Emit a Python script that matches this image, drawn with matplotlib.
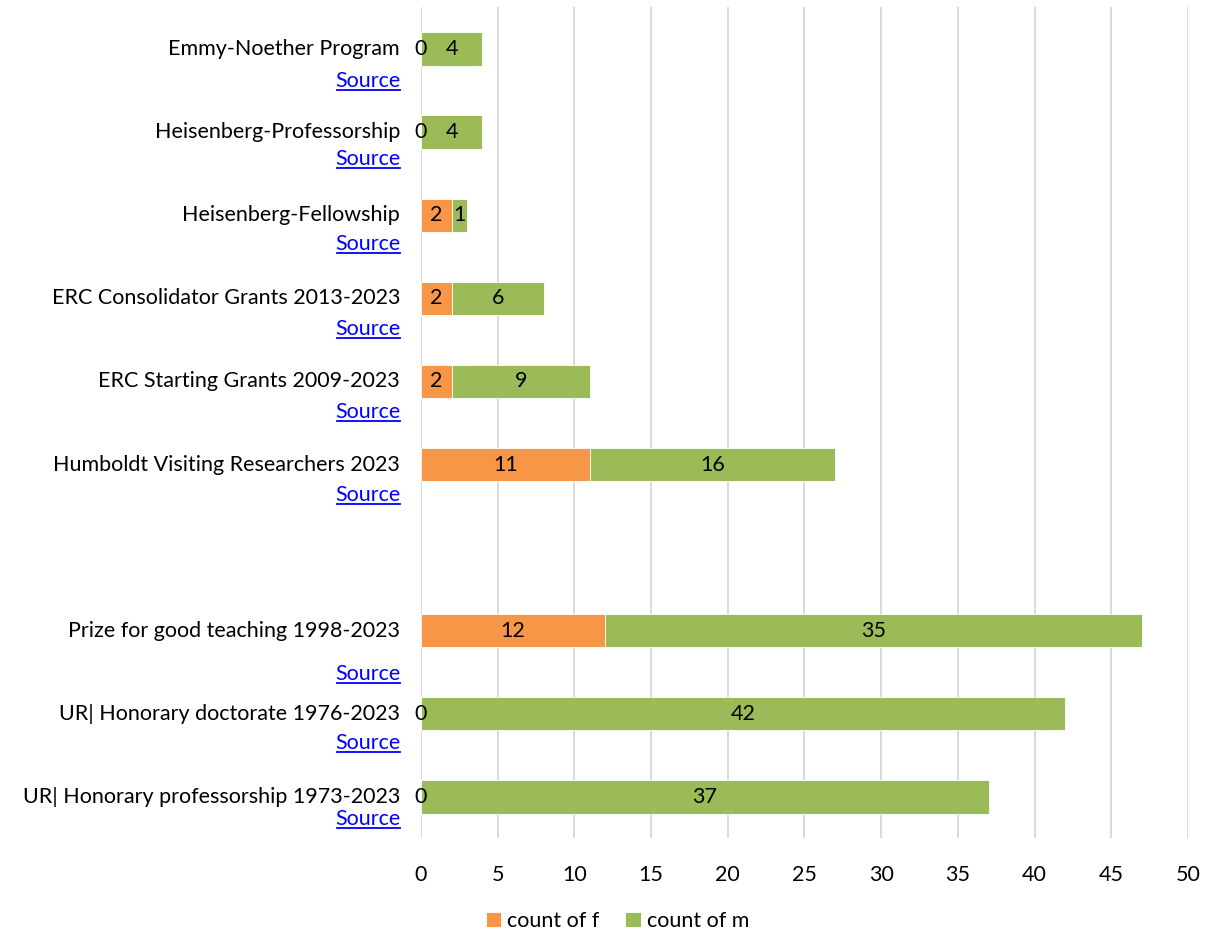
import numpy as np
import matplotlib
matplotlib.use("Agg")
import matplotlib.pyplot as plt
from matplotlib.lines import Line2D

plt.rcParams['font.family'] = ['Lato', 'DejaVu Sans']

# Data (top to bottom); empty entry is the gap row
categories = [
    "Emmy-Noether Program",
    "Heisenberg-Professorship",
    "Heisenberg-Fellowship",
    "ERC Consolidator Grants 2013-2023",
    "ERC Starting Grants 2009-2023",
    "Humboldt Visiting Researchers 2023",
    "",
    "Prize for good teaching 1998-2023",
    "UR| Honorary doctorate 1976-2023",
    "UR| Honorary professorship 1973-2023",
]
count_f = [0, 0, 2, 2, 2, 11, np.nan, 12, 0, 0]
count_m = [4, 4, 1, 6, 9, 16, np.nan, 35, 42, 37]
x_ticks = [0, 5, 10, 15, 20, 25, 30, 35, 40, 45, 50]

# vertical offset of the "Source" link below each label (points)
source_offset = [23, 19, 21, 22, 22, 22, 0, 31, 21, 16]

ORANGE = "#F79646"
GREEN = "#9BBB59"
FS = 15.5

fig = plt.figure(figsize=(12.11, 9.33), dpi=100)
ax = fig.add_axes([0.3476, 0.1013, 0.6334, 0.8907])

y = np.arange(len(categories))
f = np.array(count_f, dtype=float)
m = np.array(count_m, dtype=float)

bf = ax.barh(y, f, height=0.4, color=ORANGE, edgecolor="white", linewidth=0.6,
             label="count of f", zorder=3)
bm = ax.barh(y, m, left=f, height=0.4, color=GREEN, edgecolor="white", linewidth=0.6,
             label="count of m", zorder=3)

for bars in (bf, bm):
    labels = ["" if np.isnan(v) else f"{int(v)}" for v in bars.datavalues]
    ax.bar_label(bars, labels=labels, label_type="center", fontsize=FS, color="black", zorder=4)

ax.set_ylim(len(categories) - 0.5, -0.5)
ax.set_xlim(0, 50)
ax.set_xticks(x_ticks)
ax.set_yticks([])
ax.tick_params(axis="x", length=0, pad=19, labelsize=FS)
ax.grid(axis="x", color="#D9D9D9", linewidth=1.4, zorder=0)
for s in ax.spines.values():
    s.set_visible(False)

# category labels with "Source" links
fig.canvas.draw()
renderer = fig.canvas.get_renderer()
for i, name in enumerate(categories):
    if not name:
        continue
    ax.annotate(name, xy=(0, i), xycoords=("axes fraction", "data"),
                xytext=(-15, 0), textcoords="offset points",
                ha="right", va="center", fontsize=FS, color="black")
    t = ax.annotate("Source", xy=(0, i), xycoords=("axes fraction", "data"),
                    xytext=(-15, -source_offset[i]), textcoords="offset points",
                    ha="right", va="center", fontsize=FS, color="#0000FF")
    bb = t.get_window_extent(renderer).transformed(fig.transFigure.inverted())
    uy = bb.y0 + 0.001
    fig.add_artist(Line2D([bb.x0 + 0.002, bb.x1], [uy, uy], color="#0000FF", linewidth=1.3,
                          transform=fig.transFigure))

fig.legend(handles=[bf, bm], loc="center", bbox_to_anchor=(0.51, 0.013),
           ncol=2, frameon=False, fontsize=FS, handlelength=0.7, handleheight=0.7,
           columnspacing=1.2, handletextpad=0.3, borderpad=0)

fig.savefig("out.png", dpi=100)
